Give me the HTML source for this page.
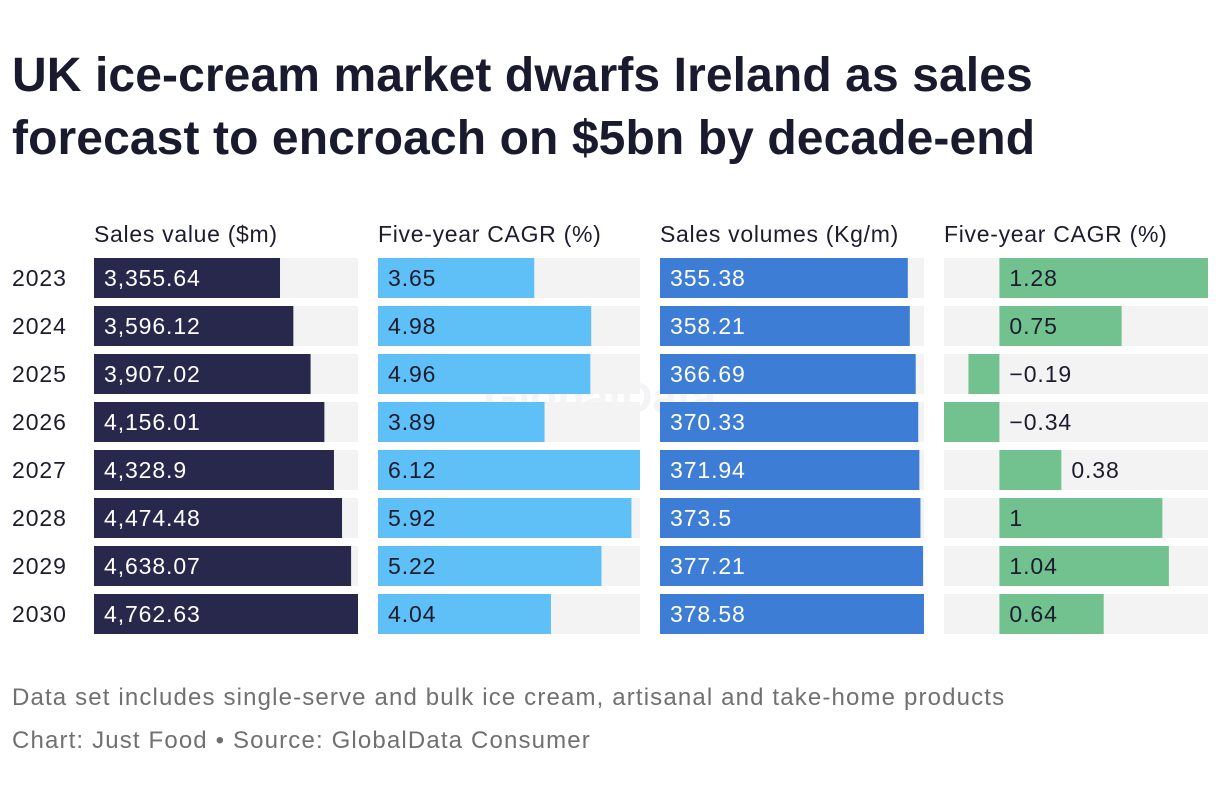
<!DOCTYPE html>
<html><head><meta charset="utf-8"><style>
body{margin:0;width:1220px;height:798px;background:#fff;font-family:"Liberation Sans",sans-serif;color:#1c1c2e;overflow:hidden}
h1{position:absolute;left:12px;top:44px;margin:0;font-size:48px;line-height:63px;font-weight:bold;color:#1a1a2e;letter-spacing:0.1px}
.foot{position:absolute;left:12px;font-size:24px;color:#707070;letter-spacing:1.15px}
</style></head><body>
<h1>UK ice-cream market dwarfs Ireland as sales<br>forecast to encroach on $5bn by decade-end</h1>
<svg id="chart" width="1220" height="798" style="position:absolute;left:0;top:0"></svg>
<div class="foot" style="top:684px">Data set includes single-serve and bulk ice cream, artisanal and take-home products</div>
<div class="foot" style="top:727px">Chart: Just Food • Source: GlobalData Consumer</div>
<script>
const years=["2023","2024","2025","2026","2027","2028","2029","2030"];
const salesValue=[3355.64,3596.12,3907.02,4156.01,4328.9,4474.48,4638.07,4762.63];
const salesLabels=["3,355.64","3,596.12","3,907.02","4,156.01","4,328.9","4,474.48","4,638.07","4,762.63"];
const valueCagr=[3.65,4.98,4.96,3.89,6.12,5.92,5.22,4.04];
const salesVolume=[355.38,358.21,366.69,370.33,371.94,373.5,377.21,378.58];
const volumeCagr=[1.28,0.75,-0.19,-0.34,0.38,1,1.04,0.64];
const headers=["Sales value ($m)","Five-year CAGR (%)","Sales volumes (Kg/m)","Five-year CAGR (%)"];
const NS="http://www.w3.org/2000/svg",svg=document.getElementById("chart");
function mk(t,a,txt){const e=document.createElementNS(NS,t);for(const k in a)e.setAttribute(k,a[k]);if(txt!==undefined)e.textContent=txt;svg.appendChild(e);return e;}
const rowY=i=>258+i*48, BH=40;
const cols=[
 {x:94,data:salesValue,labels:salesLabels,color:"#28284d",tc:"#fff",min:0,max:Math.max(...salesValue)},
 {x:378,w:262,data:valueCagr,labels:valueCagr.map(String),color:"#5fbff7",tc:"#1c1c2e",min:0,max:Math.max(...valueCagr)},
 {x:660,data:salesVolume,labels:salesVolume.map(String),color:"#3e7dd5",tc:"#fff",min:0,max:Math.max(...salesVolume)},
 {x:944,data:volumeCagr,labels:volumeCagr.map(v=>v<0?"−"+Math.abs(v):String(v)),color:"#72c28f",tc:"#1c1c2e",min:Math.min(...volumeCagr),max:Math.max(...volumeCagr)}
];
const wm=mk("text",{x:600,y:412,"font-size":44,"font-weight":"bold",fill:"#f4f4f6","text-anchor":"middle"},"GlobalData");


cols.forEach((c,ci)=>{
 const W=c.w||264;
 const sx=v=>c.x+(v-c.min)/(c.max-c.min)*W;
 const h=mk("text",{x:c.x,y:242,"font-size":23,fill:"#1c1c2e","letter-spacing":"0.7"},headers[ci]);
 
 
 c.data.forEach((v,i)=>{
  const y=rowY(i);
  const bg=mk("rect",{x:c.x,y:y,width:W,height:BH,fill:"#f3f3f3"});
  
  
  const z=sx(Math.max(0,c.min)), e=sx(v);
  const x0=Math.min(z,e), bw=Math.abs(e-z);
  const r=mk("rect",{x:x0,y:y,width:bw,height:BH,fill:c.color});
  
  
  let lx=z+10, col=c.tc;
  if(v<0){lx=z+10;}
  else if(bw<75){lx=e+10;col="#1c1c2e";}
  const t=mk("text",{x:lx,y:y+28,"font-size":23,fill:col,"letter-spacing":"0.9"},c.labels[i]);
  
  
 });
});
years.forEach((yr,i)=>{
 const t=mk("text",{x:12,y:rowY(i)+28,"font-size":23,fill:"#1c1c2e","letter-spacing":"0.9"},yr);
 
 
});
</script>
</body></html>
